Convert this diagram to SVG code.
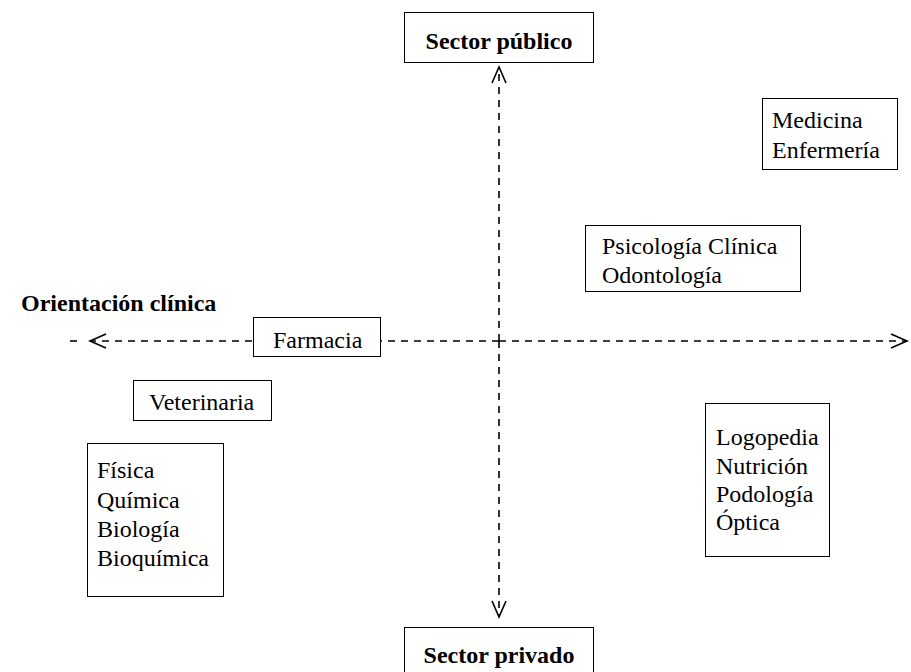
<svg xmlns="http://www.w3.org/2000/svg" width="911" height="672" viewBox="0 0 911 672">
<defs>
<style>
.box{fill:#fff;stroke:#000;stroke-width:1}
.t{font-family:"Liberation Serif","Times New Roman",serif;font-size:24px;fill:#000}
.b{font-weight:bold;text-anchor:middle}
.axis{fill:none;stroke:#000;stroke-width:1.6;stroke-dasharray:7 6}
</style>
<marker id="chev" markerUnits="userSpaceOnUse" markerWidth="20" markerHeight="20" viewBox="-18 -10 20 20" refX="0" refY="0" orient="auto">
<path d="M-16,-7 L0,0 L-16,7" fill="none" stroke="#000" stroke-width="1.6"/>
</marker>
</defs>
<rect width="911" height="672" fill="#fff"/>
<g id="connectors">
<path class="axis" d="M499,341 L90,341" marker-end="url(#chev)"/>
<path class="axis" d="M70,341 L78,341"/>
<path class="axis" d="M499,341 L907,341" marker-end="url(#chev)"/>
<path class="axis" d="M499,341 L499,67" marker-end="url(#chev)"/>
<path class="axis" d="M499,341 L499,617" marker-end="url(#chev)"/>
</g>
<g id="sector-publico">
<rect class="box" x="404.5" y="12.5" width="189" height="50"/>
<text class="t b" x="499" y="49">Sector público</text>
</g>
<g id="sector-privado">
<rect class="box" x="404.5" y="627.5" width="189" height="50"/>
<text class="t b" x="499" y="663">Sector privado</text>
</g>
<g id="orientacion-clinica">
<text class="t" font-weight="bold" x="21" y="311">Orientación clínica</text>
</g>
<g id="farmacia">
<rect class="box" x="253.5" y="317.5" width="127" height="39"/>
<text class="t" x="273" y="348">Farmacia</text>
</g>
<g id="medicina">
<rect class="box" x="762.5" y="98.5" width="135" height="71"/>
<text class="t" x="772" y="128">Medicina</text>
<text class="t" x="772" y="158">Enfermería</text>
</g>
<g id="psicologia">
<rect class="box" x="585.5" y="225.5" width="215" height="66"/>
<text class="t" x="602" y="254">Psicología Clínica</text>
<text class="t" x="602" y="283">Odontología</text>
</g>
<g id="veterinaria">
<rect class="box" x="133.5" y="380.5" width="138" height="40"/>
<text class="t" x="149" y="410">Veterinaria</text>
</g>
<g id="ciencias">
<rect class="box" x="87.5" y="443.5" width="136" height="153"/>
<text class="t" x="97" y="478">Física</text>
<text class="t" x="97" y="508">Química</text>
<text class="t" x="97" y="537">Biología</text>
<text class="t" x="97" y="566">Bioquímica</text>
</g>
<g id="logopedia">
<rect class="box" x="705.5" y="403.5" width="124" height="153"/>
<text class="t" x="716" y="445">Logopedia</text>
<text class="t" x="716" y="474">Nutrición</text>
<text class="t" x="716" y="502">Podología</text>
<text class="t" x="716" y="530">Óptica</text>
</g>
</svg>
